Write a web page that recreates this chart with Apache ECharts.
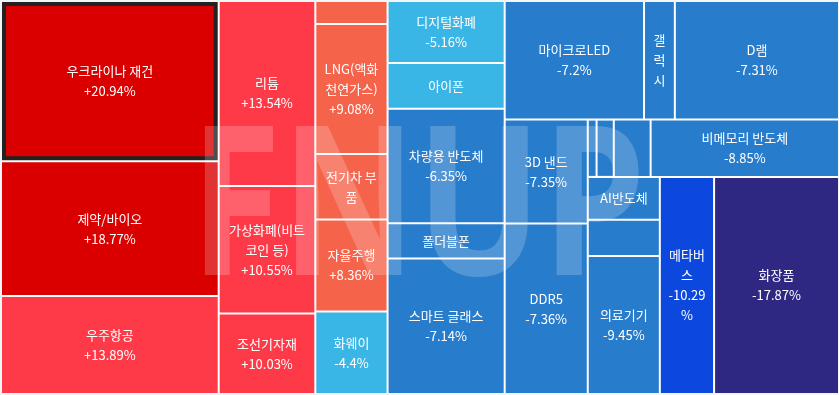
<!DOCTYPE html>
<html>
<head>
<meta charset="utf-8">
<script src="https://cdn.jsdelivr.net/npm/echarts@6/dist/echarts.min.js"></script>
<style>
  html, body { margin: 0; padding: 0; background: #f4f5f9; }
  #chart { width: 839px; height: 395px; }
</style>
</head>
<body>
<div id="chart"></div>
<script>
// Theme names, in the reference order (sorted by daily change). '' = cell too small to be labelled.
const names = [
  '우크라이나 재건', '제약/바이오', '우주항공',
  '리튬', '가상화폐(비트코인 등)', '조선기자재',
  '', 'LNG(액화천연가스)', '전기차 부품', '자율주행', '화웨이',
  '디지털화폐', '아이폰', '차량용 반도체', '폴더블폰', '스마트 글래스',
  '마이크로LED', '갤럭시', 'D램',
  '3D 낸드', 'DDR5',
  '', '', '', '비메모리 반도체',
  'AI반도체', '', '의료기기',
  '메타버스', '화장품'
];

const sizes = [
  34691, 29145, 21206,
  17756, 12256, 7720,
  1661, 9335, 4693, 6621, 5920,
  7231, 5312, 13338, 4107, 15760,
  16426, 3634, 19352,
  8582, 14077,
  502, 980, 2098, 10727,
  3074, 2592, 9886,
  11707, 26957
];

// Daily change (%). Values hidden in the reference are estimated from the sort order;
// null = value not shown in the reference.
const changes = [
  20.94, 18.77, 13.89,
  13.54, 10.55, 10.03,
  9.5, 9.08, 8.7, 8.36, -4.4,
  -5.16, -5.8, -6.35, -6.9, -7.14,
  -7.2, null, -7.31,
  -7.35, -7.36,
  -7.5, -7.9, -8.4, -8.85,
  -9.0, -9.3, -9.45,
  -10.29, -17.87
];

const highlighted = '우크라이나 재건';
const watermark = 'FNUP';

function colorFor(v) {
  if (v === null) return '#287ccc';
  if (v >= 15) return '#da0000';
  if (v >= 10) return '#ff3a48';
  if (v > 0) return '#f5634b';
  if (v > -6) return '#3ab6e6';
  if (v > -10) return '#287ccc';
  if (v > -15) return '#0c48de';
  return '#2e2882';
}

function fmt(v) {
  return (v > 0 ? '+' : '') + v + '%';
}

const data = names.map((n, i) => {
  const item = {
    name: n,
    value: sizes[i],
    change: changes[i],
    itemStyle: { color: colorFor(changes[i]) }
  };
  if (n === highlighted) {
    item.itemStyle.borderColor = '#222222';
    item.itemStyle.borderWidth = 4;
  }
  return item;
});

const chart = echarts.init(document.getElementById('chart'), null, { renderer: 'canvas' });
chart.setOption({
  backgroundColor: '#f4f5f9',
  animation: false,
  tooltip: { show: false },
  graphic: [{
    type: 'text',
    z: 100,
    x: 418,
    y: 216,
    scaleY: 1.25,
    silent: true,
    style: {
      text: watermark,
      fontFamily: '"Open Sans"',
      fontWeight: 'bold',
      fontSize: 166,
      textAlign: 'center',
      textVerticalAlign: 'middle',
      fill: 'rgba(255,255,255,0.2)'
    }
  }],
  series: [{
    type: 'treemap',
    left: 2, top: 2, right: 1, bottom: 2,
    roam: false,
    nodeClick: false,
    sort: false,
    breadcrumb: { show: false },
    itemStyle: { borderColor: '#ffffff', borderWidth: 0, gapWidth: 2 },
    label: {
      show: true,
      position: 'inside',
      color: '#ffffff',
      fontFamily: '"Noto Sans CJK KR"',
      fontSize: 13,
      lineHeight: 20,
      padding: 5,
      overflow: 'breakAll',
      formatter: function (p) {
        if (!p.name) return '';
        const c = p.data.change;
        return c === null ? p.name : p.name + '\n' + fmt(c);
      }
    },
    emphasis: { disabled: true },
    data: data
  }]
});
</script>
</body>
</html>
